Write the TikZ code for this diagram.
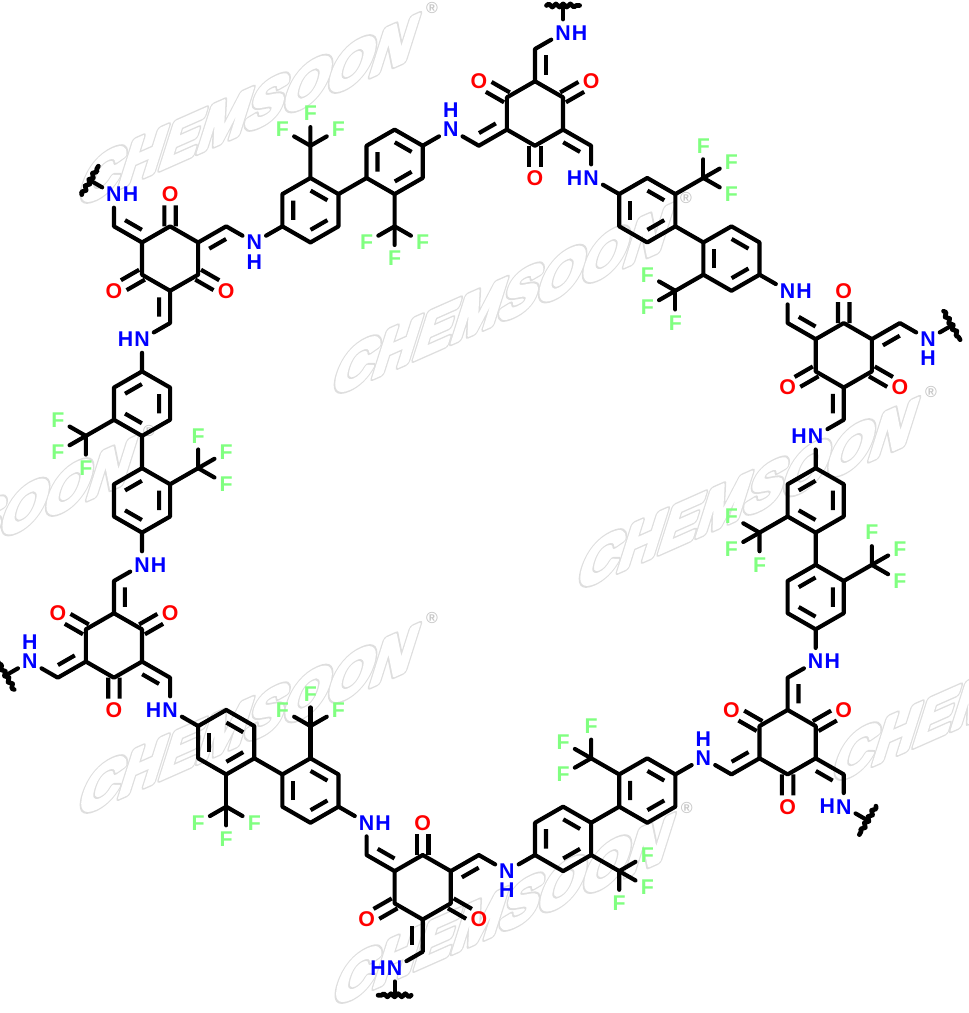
\documentclass[tikz,border=0pt]{standalone}
\usepackage{fontspec}
\setsansfont{Liberation Sans}
\usetikzlibrary{calc, decorations.pathmorphing}

\definecolor{nblue}{RGB}{0,0,255}
\definecolor{ored}{RGB}{255,0,0}
\definecolor{fgreen}{RGB}{128,255,128}

\tikzset{
  bond/.style={line width=3.1pt, line cap=round, line join=round},
  innerln/.style={line width=3.1pt},
  wavy/.style={line width=3.5pt, line cap=round, line join=round, decorate, decoration={snake, segment length=5.4pt, amplitude=1.2pt}},
  atom/.style={circle, inner sep=0pt, minimum size=20pt, font=\sffamily\bfseries\fontsize{16}{17}\selectfont},
  nitro/.style={atom, text=nblue},
  oxy/.style={atom, text=ored},
  fluo/.style={atom, text=fgreen},
  hyd/.style={inner sep=0pt, text=nblue, font=\sffamily\bfseries\fontsize{16}{17}\selectfont},
  HL/.style={xshift=-12.4pt}, HR/.style={xshift=12.4pt},
  HU/.style={yshift=14.6pt}, HD/.style={yshift=-14.6pt},
  wmark/.style={inner sep=0pt, cm={1.06,.472,.40,1.27,(0,0)}, transform shape, font=\sffamily\bfseries\fontsize{40}{42}\selectfont},
  wmreg/.style={inner sep=0pt, text=black!22, font=\sffamily\bfseries\fontsize{12}{12}\selectfont}
}

% second line of a double bond, on the right of a -> b
\newcommand{\innerbond}[2]{\draw[innerln] ($(#1)!.2!(#2)!8.2pt!-90:(#2)$) -- ($(#1)!.8!(#2)!8.2pt!-90:(#2)$);}
% C=O drawn as two lines round the axis
\newcommand{\carbonyl}[2]{%
  \draw[innerln] ($(#1)!4.3pt!90:(#2)$) -- ($(#2)!8.5pt!(#1)!4.3pt!-90:(#1)$);
  \draw[innerln] ($(#1)!4.3pt!-90:(#2)$) -- ($(#2)!8.5pt!(#1)!4.3pt!90:(#1)$);}
% CF3: name, ring atom, carbon, three fluorines
\newcommand{\cfgroup}[6]{%
  \coordinate (#1c\k) at (#3);
  \node[fluo] (#1x\k) at (#4) {F};
  \node[fluo] (#1y\k) at (#5) {F};
  \node[fluo] (#1z\k) at (#6) {F};
  \draw[bond] (#2\k) -- (#1c\k);
  \draw[bond] (#1c\k) -- (#1x\k);
  \draw[bond] (#1c\k) -- (#1y\k);
  \draw[bond] (#1c\k) -- (#1z\k);}
% watermark letters: wide grey stroke, white stroke and fill over it
\newcommand{\wmtext}[1]{\special{pdf:code 1 Tr 1 j 1 J 4.4 w 0.87 G}\rlap{#1}\special{pdf:code 2 Tr 2.3 w 1 G 1 g}#1\special{pdf:code 0 Tr 0 g}}

\begin{document}
\begin{tikzpicture}[x=21.0525pt, y=-12.155pt, yscale=.9947]
\useasboundingbox (-19.06,-7.04) rectangle (15.46,55.80);

% Watermark
\foreach \n/\wx/\wy in {1/-10.19/-0.22, 2/-1.14/11.57, 3/7.59/23.60, 4/-20.27/26.02, 5/-10.19/37.62, 6/-1.11/49.41, 7/16.67/35.58} {
  \node[wmark] (wm\n) at (\wx,\wy) {\wmtext{CHEMSOON}};
  \node[wmreg] (reg\n) at ($(wm\n)+(6.52,-6.33)$) {®};
}

% One ring, its arms and one linker, turned six times round the middle
\foreach \k/\flip in {0/0, 1/1, 2/1, 3/1, 4/1, 5/0} {
\begin{scope}[rotate around={-60*\k:(-2,24)}]
  % Central ring
  \coordinate (r1\k) at (0,-2);
  \coordinate (r2\k) at (1,-1);
  \coordinate (r3\k) at (1,1);
  \coordinate (r4\k) at (0,2);
  \coordinate (r5\k) at (-1,1);
  \coordinate (r6\k) at (-1,-1);
  \draw[bond] (r1\k) -- (r2\k) -- (r3\k) -- (r4\k) -- (r5\k) -- (r6\k) -- cycle;

  % Carbonyls
  \node[oxy] (ou\k) at (-2,-2) {O};
  \node[oxy] (ov\k) at (2,-2) {O};
  \node[oxy] (ow\k) at (0,4) {O};
  \carbonyl{r6\k}{ou\k}
  \carbonyl{r2\k}{ov\k}
  \carbonyl{r4\k}{ow\k}

  % Arms
  \coordinate (cw\k) at (0,-4);
  \coordinate (ca\k) at (2,2);
  \coordinate (cb\k) at (-2,2);
  \node[nitro] (nw\k) at (1,-5) {N};
  \node[nitro] (na\k) at (2,4) {N};
  \node[nitro] (nb\k) at (-3,1) {N};
  \draw[bond] (r1\k) -- (cw\k) -- (nw\k);
  \draw[bond] (r3\k) -- (ca\k) -- (na\k);
  \draw[bond] (r5\k) -- (cb\k) -- (nb\k);
  \innerbond{r1\k}{cw\k}
  \innerbond{r3\k}{ca\k}
  \innerbond{r5\k}{cb\k}

  % Wavy end
  \coordinate (wm\k) at (1,-6.7);
  \coordinate (wl\k) at (0.41,-6.7);
  \coordinate (wr\k) at (1.59,-6.7);
  \draw[bond] (nw\k) -- (wm\k);
  \draw[wavy] (wl\k) -- (wr\k);

  % Linker rings
  \coordinate (a1\k) at (3,5);
  \coordinate (a2\k) at (4,4);
  \coordinate (a3\k) at (5,5);
  \coordinate (a4\k) at (5,7);
  \coordinate (a5\k) at (4,8);
  \coordinate (a6\k) at (3,7);
  \coordinate (b1\k) at (6,8);
  \coordinate (b2\k) at (7,7);
  \coordinate (b3\k) at (8,8);
  \coordinate (b4\k) at (8,10);
  \coordinate (b5\k) at (7,11);
  \coordinate (b6\k) at (6,10);
  \draw[bond] (a1\k) -- (a2\k) -- (a3\k) -- (a4\k) -- (a5\k) -- (a6\k) -- cycle;
  \draw[bond] (b1\k) -- (b2\k) -- (b3\k) -- (b4\k) -- (b5\k) -- (b6\k) -- cycle;
  \draw[bond] (na\k) -- (a1\k);
  \draw[bond] (a4\k) -- (b1\k);

  % Ring double bonds
  \ifnum\k<3 \def\kek{6/1,2/3,4/5}\else \def\kek{1/2,3/4,5/6}\fi
  \foreach \p/\q in \kek {
    \innerbond{a\p\k}{a\q\k}
    \innerbond{b\p\k}{b\q\k}
  }

  % CF3 groups
  \ifnum\flip=0
    \cfgroup{fa}{a3}{6,4}{6,2}{7,3}{7,5}
    \cfgroup{fb}{b6}{5,11}{4,10}{4,12}{5,13}
  \else
    \cfgroup{fa}{a5}{4,10}{4,12}{5,11}{3,11}
    \cfgroup{fb}{b2}{7,5}{7,3}{8,4}{6,4}
  \fi
\end{scope}
}

% Linkers closed on the next ring, and the H of each NH
\foreach \k/\m/\Ha/\Hb/\Hw in {0/1/HL/HU/HR, 1/2/HL/HR/HD, 2/3/HU/HR/HL, 3/4/HR/HD/HL, 4/5/HR/HL/HU, 5/0/HD/HL/HR} {
  \draw[bond] (b4\k) -- (nb\m);
  \node[hyd, \Ha] (ha\k) at (na\k) {H};
  \node[hyd, \Hb] (hb\k) at (nb\k) {H};
  \node[hyd, \Hw] (hw\k) at (nw\k) {H};
}
\end{tikzpicture}
\end{document}
